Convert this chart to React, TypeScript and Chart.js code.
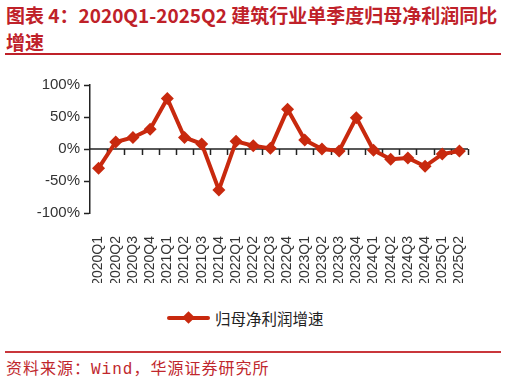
import React, { useEffect, useRef } from 'react';
import { Chart, registerables } from 'chart.js';

Chart.register(...registerables);

const categories = [
  '2020Q1', '2020Q2', '2020Q3', '2020Q4',
  '2021Q1', '2021Q2', '2021Q3', '2021Q4',
  '2022Q1', '2022Q2', '2022Q3', '2022Q4',
  '2023Q1', '2023Q2', '2023Q3', '2023Q4',
  '2024Q1', '2024Q2', '2024Q3', '2024Q4',
  '2025Q1', '2025Q2',
];
const growth = [
  -30, 11, 18, 31,
  79, 18, 8, -64,
  12, 5, 1, 62,
  14, 0, -3, 49,
  -2, -16, -14, -27,
  -8, -3,
];
const seriesName = '归母净利润增速';
const yMin = -100;
const yMax = 100;
const yStep = 50;

const RED = '#c8290e';
const TITLE_RED = '#bf2129';

const zeroAxis = {
  id: 'zeroAxis',
  beforeDatasetsDraw(chart: any) {
    const { ctx, chartArea, scales } = chart;
    const y0 = scales.y.getPixelForValue(0);
    const n = categories.length;
    const w = (chartArea.right - chartArea.left) / n;
    ctx.save();
    ctx.strokeStyle = '#222';
    ctx.lineWidth = 1.5;
    ctx.beginPath();
    ctx.moveTo(chartArea.left, y0);
    ctx.lineTo(chartArea.right, y0);
    for (let k = 1; k <= n; k++) {
      const x = Math.round(chartArea.left + k * w) + 0.5;
      ctx.moveTo(x, y0);
      ctx.lineTo(x, y0 + 6);
    }
    ctx.stroke();
    ctx.restore();
  },
};

export default function App() {
  const ref = useRef<HTMLCanvasElement>(null);

  useEffect(() => {
    if (!ref.current) return;
    const chart = new Chart(ref.current, {
      type: 'line',
      data: {
        labels: categories,
        datasets: [
          {
            label: seriesName,
            data: growth,
            borderColor: RED,
            backgroundColor: RED,
            borderWidth: 4,
            pointStyle: 'rectRot',
            pointRadius: 6.5,
            pointBorderWidth: 0,
            pointBackgroundColor: RED,
            tension: 0,
          },
        ],
      },
      options: {
        responsive: false,
        animation: false,
        layout: { padding: { left: 0, right: 38, top: 27, bottom: 15 } },
        plugins: {
          legend: { display: false },
          tooltip: { enabled: false },
        },
        scales: {
          x: {
            offset: true,
            grid: { display: false },
            border: { display: false },
            ticks: {
              autoSkip: false,
              maxRotation: 90,
              minRotation: 90,
              padding: 15,
              color: '#333',
              font: { family: 'Liberation Sans, Arial, sans-serif', size: 14 },
            },
            afterFit: (s: any) => {
              s.height = 70;
            },
          },
          y: {
            min: yMin,
            max: yMax,
            ticks: {
              stepSize: yStep,
              padding: 4,
              color: '#333',
              font: { family: 'Liberation Sans, Arial, sans-serif', size: 15 },
              callback: (v: any) => `${v}%`,
            },
            grid: {
              drawOnChartArea: false,
              tickLength: 6,
              tickColor: '#222',
              tickWidth: 1.5,
            },
            border: { display: true, color: '#222', width: 1.5 },
            afterFit: (s: any) => {
              s.width = 90;
            },
          },
        },
      },
      plugins: [zeroAxis],
    });
    return () => chart.destroy();
  }, []);

  const cjk = '"Noto Sans CJK SC", sans-serif';

  return (
    <div
      style={{
        position: 'fixed',
        left: 0,
        top: 0,
        width: 506,
        height: 385,
        background: '#fff',
        overflow: 'hidden',
      }}
    >
      <div
        style={{
          position: 'absolute',
          left: 6,
          top: 4,
          fontFamily: cjk,
          fontWeight: 700,
          fontSize: 19,
          lineHeight: '22px',
          color: TITLE_RED,
          whiteSpace: 'nowrap',
        }}
      >
        图表 4：2020Q1-2025Q2 建筑行业单季度归母净利润同比
      </div>
      <div
        style={{
          position: 'absolute',
          left: 6,
          top: 31,
          fontFamily: cjk,
          fontWeight: 700,
          fontSize: 19,
          lineHeight: '22px',
          color: TITLE_RED,
          whiteSpace: 'nowrap',
        }}
      >
        增速
      </div>
      <div
        style={{
          position: 'absolute',
          left: 5,
          top: 53,
          width: 496,
          height: 2,
          background: TITLE_RED,
        }}
      />
      <canvas
        ref={ref}
        width={506}
        height={240}
        style={{ position: 'absolute', left: 0, top: 58, width: 506, height: 240 }}
      />
      <div
        style={{
          position: 'absolute',
          left: 167,
          top: 316,
          width: 43,
          height: 4,
          borderRadius: 2,
          background: RED,
        }}
      />
      <div
        style={{
          position: 'absolute',
          left: 184,
          top: 313,
          width: 9,
          height: 9,
          background: RED,
          transform: 'rotate(45deg)',
        }}
      />
      <div
        style={{
          position: 'absolute',
          left: 215,
          top: 308,
          fontFamily: cjk,
          fontSize: 15.5,
          lineHeight: '20px',
          color: '#222',
          whiteSpace: 'nowrap',
        }}
      >
        {seriesName}
      </div>
      <div
        style={{
          position: 'absolute',
          left: 5,
          top: 351,
          width: 496,
          height: 2,
          background: '#c9363b',
        }}
      />
      <div
        style={{
          position: 'absolute',
          left: 6,
          top: 360,
          fontFamily: '"Liberation Mono", "Noto Sans CJK SC", monospace',
          fontSize: 16,
          letterSpacing: 1,
          lineHeight: '20px',
          color: '#c0272d',
          whiteSpace: 'nowrap',
        }}
      >
        资料来源：Wind，华源证券研究所
      </div>
    </div>
  );
}
